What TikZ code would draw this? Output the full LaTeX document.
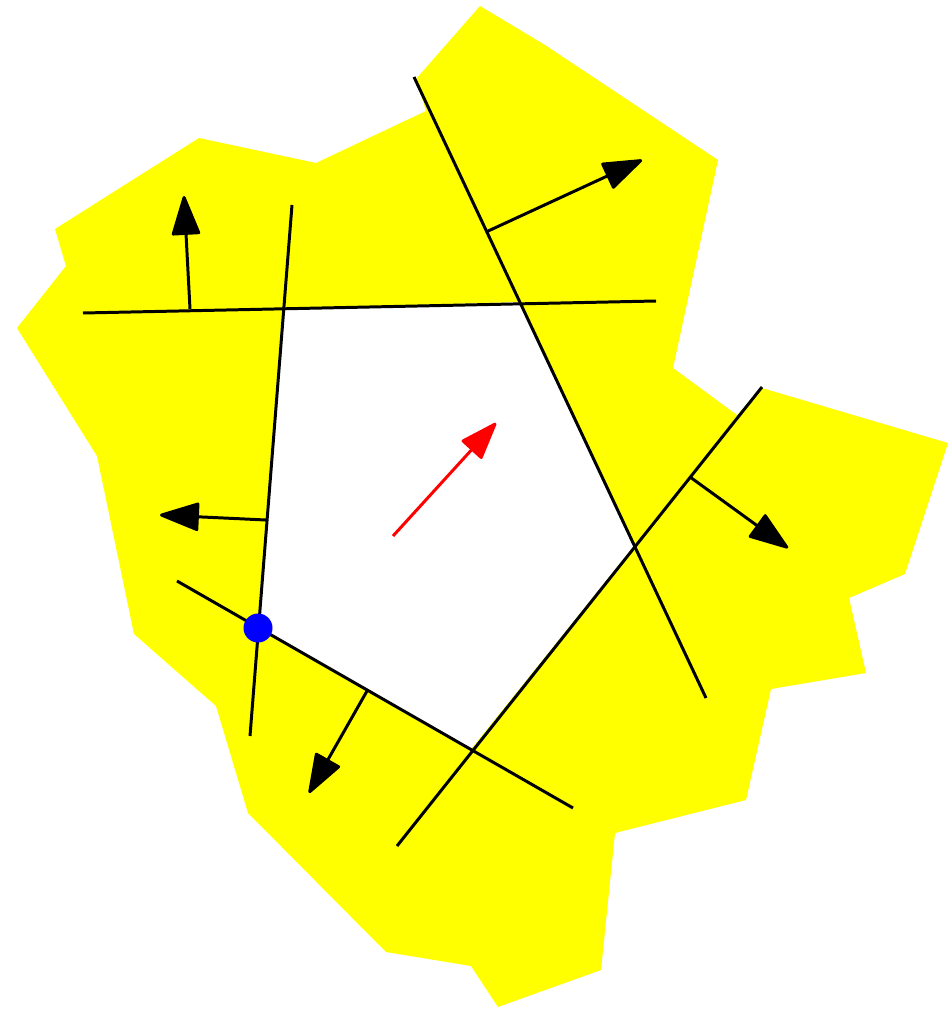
\documentclass[tikz,border=0pt]{standalone}
\usetikzlibrary{arrows.meta}
\definecolor{fieldyellow}{RGB}{255,255,0}
\tikzset{
  seg/.style={line width=1.7pt},
  normal/.style={line width=1.7pt,-{Triangle[length=0.84cm,width=0.58cm,round]}},
  rednormal/.style={line width=1.7pt,red,-{Triangle[length=0.8cm,width=0.56cm,round]}},
}
\begin{document}
\begin{tikzpicture}[x=0.02cm,y=-0.02cm]
\useasboundingbox (0,0) rectangle (951,1010);
% yellow region
\fill[fieldyellow] (948,443)--(905,574)--(849,598)--(866,673)--(771,689)--(746,800)--(615,833)--(601,970)--(498,1007)--(471,966)--(386,952)--(248,813)--(216,706)--(134,634)--(97,456)--(17,328)--(66,266)--(55,229)--(199,138)--(316,163)--(426,111)--(416,79)--(480,6)--(545,45)--(718,160)--(673,368)--(737,415)--(762,388)--cycle;
% inner white pentagon
\fill[white] (284,309)--(519,302)--(634,546)--(471,749)--(258,628)--cycle;
% lines
\coordinate (h1) at (83,313); \coordinate (h2) at (656,301);
\coordinate (v1) at (292,205); \coordinate (v2) at (250,736);
\coordinate (d1) at (414,77); \coordinate (d2) at (706,698);
\coordinate (r1) at (762,387); \coordinate (r2) at (397,846);
\coordinate (b1) at (177,581); \coordinate (b2) at (573,808);
\draw[seg] (h1)--(h2);
\draw[seg] (v1)--(v2);
\draw[seg] (d1)--(d2);
\draw[seg] (r1)--(r2);
\draw[seg] (b1)--(b2);
% normals
\coordinate (n1s) at (190,309); \coordinate (n1e) at (184,196);
\coordinate (n2s) at (486,232); \coordinate (n2e) at (642,160);
\coordinate (n3s) at (266,520); \coordinate (n3e) at (160,515);
\coordinate (n4s) at (690,477); \coordinate (n4e) at (788,548);
\coordinate (n5s) at (367,691); \coordinate (n5e) at (309,793);
\draw[normal] (n1s)--(n1e);
\draw[normal] (n2s)--(n2e);
\draw[normal] (n3s)--(n3e);
\draw[normal] (n4s)--(n4e);
\draw[normal] (n5s)--(n5e);
% red arrow
\coordinate (rs) at (393,536); \coordinate (re) at (496,423);
\draw[rednormal] (rs)--(re);
% blue dot
\fill[blue] (258,628) circle[radius=14.5];
\end{tikzpicture}
\end{document}
